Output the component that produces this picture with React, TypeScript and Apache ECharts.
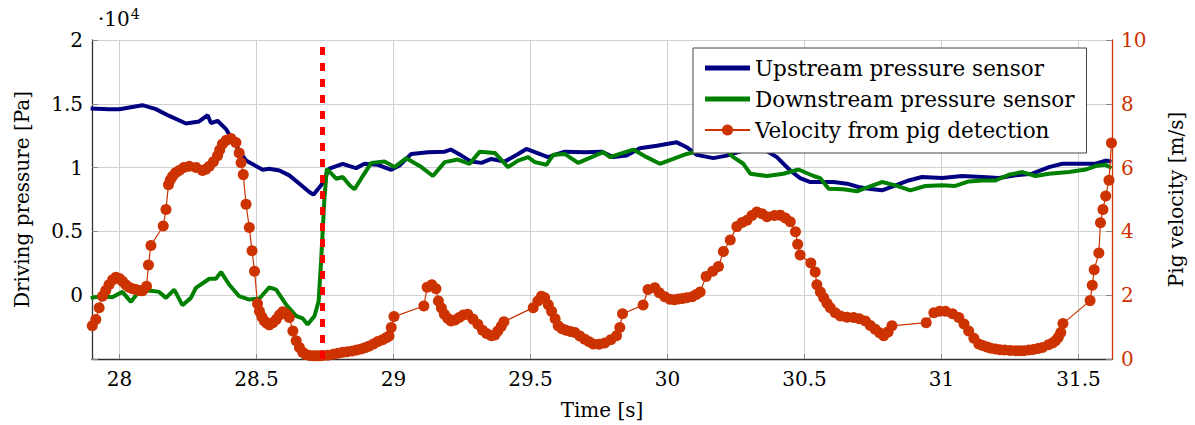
import React, { useEffect, useRef } from "react";
import * as echarts from "echarts";

const FONT = "DejaVu Serif";

// Upstream pressure sensor [time s, pressure Pa]
const upstreamTime = [27.895, 27.962, 28.0, 28.084, 28.133, 28.182, 28.243, 28.291, 28.322, 28.334, 28.358, 28.389, 28.425, 28.462, 28.523, 28.547, 28.584, 28.62, 28.657, 28.693, 28.708, 28.736, 28.766, 28.815, 28.84, 28.864, 28.894, 28.943, 28.992, 29.022, 29.065, 29.126, 29.187, 29.209, 29.248, 29.284, 29.321, 29.357, 29.406, 29.455, 29.485, 29.516, 29.564, 29.625, 29.698, 29.759, 29.802, 29.851, 29.899, 29.961, 30.034, 30.07, 30.107, 30.167, 30.216, 30.277, 30.35, 30.399, 30.448, 30.484, 30.521, 30.606, 30.655, 30.697, 30.734, 30.783, 30.832, 30.88, 30.929, 31.002, 31.075, 31.148, 31.209, 31.27, 31.331, 31.392, 31.441, 31.514, 31.562, 31.599, 31.62];
const upstreamPa = [14630, 14580, 14580, 14890, 14580, 14050, 13460, 13620, 14110, 13490, 13670, 13020, 11720, 10550, 9830, 9910, 9770, 9390, 8740, 8090, 7880, 8610, 9910, 10300, 10120, 9960, 10300, 10220, 9830, 10160, 11070, 11210, 11250, 11410, 10940, 10470, 10370, 10680, 10470, 11070, 11460, 11210, 10820, 11250, 11210, 11250, 10820, 10940, 11520, 11720, 11980, 11600, 11000, 10740, 10940, 11330, 11460, 10820, 9770, 9180, 8870, 8870, 8740, 8480, 8350, 8220, 8610, 8990, 9260, 9180, 9340, 9260, 9180, 9390, 9520, 10040, 10300, 10300, 10300, 10550, 10470];

// Downstream pressure sensor [time s, pressure Pa]
const downstreamTime = [27.895, 27.938, 27.974, 28.011, 28.042, 28.072, 28.109, 28.145, 28.17, 28.2, 28.23, 28.261, 28.279, 28.328, 28.352, 28.371, 28.401, 28.437, 28.474, 28.511, 28.547, 28.572, 28.608, 28.645, 28.669, 28.687, 28.712, 28.727, 28.736, 28.748, 28.757, 28.791, 28.815, 28.84, 28.858, 28.882, 28.919, 28.967, 29.004, 29.047, 29.102, 29.144, 29.187, 29.235, 29.278, 29.315, 29.37, 29.418, 29.455, 29.491, 29.516, 29.558, 29.583, 29.625, 29.674, 29.723, 29.765, 29.79, 29.826, 29.875, 29.924, 29.972, 30.021, 30.07, 30.119, 30.167, 30.216, 30.24, 30.277, 30.302, 30.363, 30.423, 30.478, 30.533, 30.557, 30.588, 30.642, 30.691, 30.734, 30.783, 30.832, 30.886, 30.941, 31.002, 31.05, 31.099, 31.148, 31.197, 31.245, 31.295, 31.343, 31.392, 31.465, 31.526, 31.562, 31.599, 31.62];
const downstreamPa = [-210, -80, -160, 260, -520, 310, 360, 260, -210, 440, -780, -210, 570, 1290, 1290, 1810, 820, -80, -340, -260, 620, 440, -730, -1630, -1820, -2290, -1630, -470, 2650, 7570, 9910, 9130, 9260, 8610, 8300, 9130, 10370, 10470, 10040, 10740, 10040, 9340, 10430, 10630, 10300, 11250, 11150, 10040, 10550, 10820, 10430, 10220, 11000, 11070, 10370, 10820, 11210, 10820, 11070, 11410, 10820, 10300, 10680, 11070, 11330, 11460, 11330, 10820, 10300, 9520, 9340, 9520, 9850, 9340, 9180, 8350, 8300, 8140, 8480, 8870, 8610, 8220, 8560, 8610, 8560, 8920, 8990, 8990, 9440, 9650, 9340, 9520, 9650, 9850, 10120, 10220, 9960];

// Velocity from pig detection [time s, velocity m/s]
const velocityTime = [27.901, 27.914, 27.926, 27.938, 27.95, 27.962, 27.975, 27.987, 28.0, 28.011, 28.023, 28.035, 28.048, 28.06, 28.072, 28.084, 28.099, 28.106, 28.115, 28.16, 28.17, 28.179, 28.186, 28.194, 28.205, 28.218, 28.235, 28.255, 28.28, 28.303, 28.315, 28.328, 28.343, 28.358, 28.366, 28.376, 28.39, 28.407, 28.425, 28.437, 28.444, 28.452, 28.462, 28.474, 28.484, 28.493, 28.504, 28.511, 28.52, 28.529, 28.538, 28.547, 28.56, 28.572, 28.584, 28.596, 28.608, 28.62, 28.633, 28.645, 28.657, 28.669, 28.68, 28.694, 28.707, 28.72, 28.731, 28.742, 28.76, 28.78, 28.797, 28.815, 28.832, 28.85, 28.866, 28.882, 28.896, 28.91, 28.927, 28.943, 28.96, 28.974, 28.984, 28.992, 29.002, 29.111, 29.123, 29.14, 29.155, 29.164, 29.175, 29.186, 29.198, 29.21, 29.225, 29.24, 29.255, 29.271, 29.29, 29.308, 29.325, 29.34, 29.357, 29.37, 29.381, 29.393, 29.403, 29.51, 29.527, 29.54, 29.552, 29.565, 29.577, 29.59, 29.601, 29.615, 29.63, 29.646, 29.662, 29.68, 29.698, 29.714, 29.729, 29.75, 29.771, 29.793, 29.814, 29.826, 29.836, 29.911, 29.929, 29.954, 29.97, 29.99, 30.009, 30.025, 30.04, 30.055, 30.07, 30.09, 30.105, 30.119, 30.141, 30.165, 30.186, 30.204, 30.229, 30.253, 30.272, 30.29, 30.308, 30.326, 30.345, 30.363, 30.39, 30.411, 30.43, 30.448, 30.467, 30.475, 30.484, 30.523, 30.539, 30.545, 30.558, 30.57, 30.582, 30.594, 30.612, 30.631, 30.655, 30.679, 30.7, 30.722, 30.74, 30.758, 30.774, 30.789, 30.805, 30.819, 30.944, 30.972, 30.993, 31.014, 31.04, 31.063, 31.082, 31.099, 31.118, 31.136, 31.15, 31.165, 31.18, 31.197, 31.213, 31.23, 31.25, 31.27, 31.285, 31.3, 31.318, 31.335, 31.352, 31.368, 31.39, 31.405, 31.416, 31.426, 31.435, 31.443, 31.542, 31.55, 31.557, 31.574, 31.58, 31.589, 31.599, 31.611, 31.62];
const velocityMs = [1.04, 1.24, 1.61, 1.97, 2.15, 2.33, 2.48, 2.56, 2.52, 2.44, 2.33, 2.25, 2.2, 2.18, 2.15, 2.14, 2.28, 2.95, 3.56, 4.17, 4.69, 5.46, 5.62, 5.73, 5.84, 5.91, 6.0, 6.04, 6.0, 5.91, 5.95, 6.04, 6.18, 6.37, 6.55, 6.74, 6.86, 6.91, 6.79, 6.46, 6.15, 5.78, 4.85, 4.12, 3.39, 2.75, 1.73, 1.5, 1.32, 1.19, 1.12, 1.07, 1.14, 1.24, 1.38, 1.48, 1.42, 1.3, 0.88, 0.57, 0.36, 0.21, 0.14, 0.11, 0.1, 0.1, 0.1, 0.11, 0.12, 0.15, 0.18, 0.21, 0.23, 0.25, 0.28, 0.31, 0.35, 0.4, 0.47, 0.55, 0.6, 0.67, 0.72, 0.99, 1.33, 1.66, 2.25, 2.33, 2.2, 1.82, 1.6, 1.4, 1.28, 1.19, 1.22, 1.3, 1.38, 1.4, 1.25, 1.09, 0.9, 0.8, 0.73, 0.75, 0.88, 1.02, 1.17, 1.61, 1.82, 1.97, 1.92, 1.7, 1.5, 1.26, 1.04, 0.95, 0.9, 0.86, 0.83, 0.72, 0.62, 0.54, 0.47, 0.46, 0.5, 0.6, 0.73, 0.99, 1.42, 1.69, 2.18, 2.23, 2.08, 1.95, 1.87, 1.86, 1.88, 1.9, 1.92, 1.95, 2.02, 2.1, 2.59, 2.75, 2.9, 3.37, 3.73, 4.15, 4.28, 4.35, 4.5, 4.61, 4.55, 4.46, 4.5, 4.51, 4.42, 4.3, 3.99, 3.6, 3.26, 3.01, 2.73, 2.33, 2.1, 1.92, 1.75, 1.61, 1.45, 1.35, 1.31, 1.3, 1.26, 1.19, 1.05, 0.93, 0.82, 0.73, 0.85, 1.04, 1.14, 1.45, 1.5, 1.5, 1.42, 1.3, 1.1, 0.88, 0.65, 0.47, 0.42, 0.38, 0.34, 0.31, 0.29, 0.28, 0.27, 0.26, 0.26, 0.26, 0.28, 0.3, 0.33, 0.36, 0.45, 0.5, 0.57, 0.68, 0.83, 1.11, 1.83, 2.31, 2.8, 3.32, 4.27, 4.69, 5.11, 5.6, 6.77];

const pigDetectionTime = 28.74;

const seriesNames = ["Upstream pressure sensor", "Downstream pressure sensor", "Velocity from pig detection"];

const zip = (xs: number[], ys: number[]) => xs.map((x, i) => [x, ys[i]]);

const barIcon = "path://M0,0M0,14M0,4.5L45,4.5L45,9.5L0,9.5Z";

export default function App() {
  const ref = useRef<HTMLDivElement>(null);
  useEffect(() => {
    if (!ref.current) return;
    const chart = echarts.init(ref.current, undefined, { renderer: "svg" });
    const axisText = { fontFamily: FONT, fontSize: 20, color: "#000" };
    chart.setOption({
      animation: false,
      backgroundColor: "#fff",
      textStyle: { fontFamily: FONT },
      grid: { left: 92, right: 83, top: 40, bottom: 63, containLabel: false },
      legend: {
        data: [
          { name: seriesNames[0], icon: barIcon },
          { name: seriesNames[1], icon: barIcon },
          { name: seriesNames[2] },
        ],
        orient: "vertical",
        left: 693,
        top: 48,
        itemWidth: 45,
        itemHeight: 14,
        itemGap: 9,
        padding: [9, 12, 12, 11],
        borderColor: "#444",
        borderWidth: 1,
        backgroundColor: "#fff",
        textStyle: { fontFamily: FONT, fontSize: 21.5, color: "#000" },
        z: 10,
      },
      graphic: [
        {
          type: "text",
          left: 98,
          top: 7,
          style: {
            text: "{a|·10}{b|4}",
            rich: {
              a: { fontFamily: FONT, fontSize: 20, fill: "#000" },
              b: { fontFamily: FONT, fontSize: 14, fill: "#000", padding: [0, 0, 10, 1] },
            },
          },
        },
      ],
      xAxis: {
        type: "value",
        min: 27.9,
        max: 31.622,
        splitNumber: 8,
        name: "Time [s]",
        nameLocation: "middle",
        nameGap: 41,
        nameTextStyle: axisText,
        axisLine: { show: true, onZero: false, lineStyle: { color: "#333", width: 1.3 } },
        axisTick: { show: true, inside: true, length: 5, lineStyle: { color: "#888" } },
        axisLabel: { ...axisText, margin: 10, showMinLabel: false, showMaxLabel: false },
        splitLine: { show: true, lineStyle: { color: "#d0d0d0", width: 1 } },
      },
      yAxis: [
        {
          type: "value",
          min: -5000,
          max: 20000,
          interval: 5000,
          position: "left",
          name: "Driving pressure [Pa]",
          nameLocation: "middle",
          nameRotate: 90,
          nameGap: 60,
          nameTextStyle: axisText,
          axisLine: { show: true, onZero: false, lineStyle: { color: "#333", width: 1.3 } },
          axisTick: { show: true, inside: true, length: 6, lineStyle: { color: "#888" } },
          axisLabel: {
            ...axisText,
            margin: 9,
            formatter: (v: number) => (v < 0 ? "" : String(v / 10000)),
          },
          splitLine: { show: true, lineStyle: { color: "#d0d0d0", width: 1 } },
        },
        {
          type: "value",
          min: 0,
          max: 10,
          interval: 2,
          position: "right",
          name: "Pig velocity [m/s]",
          nameLocation: "middle",
          nameRotate: 90,
          nameGap: 54,
          nameTextStyle: axisText,
          axisLine: { show: true, onZero: false, lineStyle: { color: "#cc3300", width: 1.3 } },
          axisTick: { show: true, inside: true, length: 6, lineStyle: { color: "#888" } },
          axisLabel: { ...axisText, color: "#cc3300", margin: 9 },
          splitLine: { show: false },
        },
      ],
      series: [
        {
          name: seriesNames[0],
          type: "line",
          yAxisIndex: 0,
          symbol: "none",
          data: zip(upstreamTime, upstreamPa),
          lineStyle: { color: "#000080", width: 4 },
          itemStyle: { color: "#000080" },
          z: 2,
        },
        {
          name: seriesNames[1],
          type: "line",
          yAxisIndex: 0,
          symbol: "none",
          data: zip(downstreamTime, downstreamPa),
          lineStyle: { color: "#008000", width: 4 },
          itemStyle: { color: "#008000" },
          z: 2,
        },
        {
          name: "pig detection",
          type: "line",
          yAxisIndex: 0,
          data: [],
          z: 3,
          markLine: {
            silent: true,
            symbol: ["none", "none"],
            label: { show: false },
            lineStyle: { color: "#ff0000", width: 5, type: [8, 8] },
            data: [{ xAxis: pigDetectionTime }],
          },
        },
        {
          name: seriesNames[2],
          type: "line",
          yAxisIndex: 1,
          symbol: "circle",
          symbolSize: 11,
          data: zip(velocityTime, velocityMs),
          lineStyle: { color: "#cc3300", width: 1.2 },
          itemStyle: { color: "#cc3300" },
          z: 4,
        },
      ],
    });
    return () => chart.dispose();
  }, []);
  return <div ref={ref} style={{ position: "absolute", left: 0, top: 0, width: 1195, height: 425 }} />;
}
